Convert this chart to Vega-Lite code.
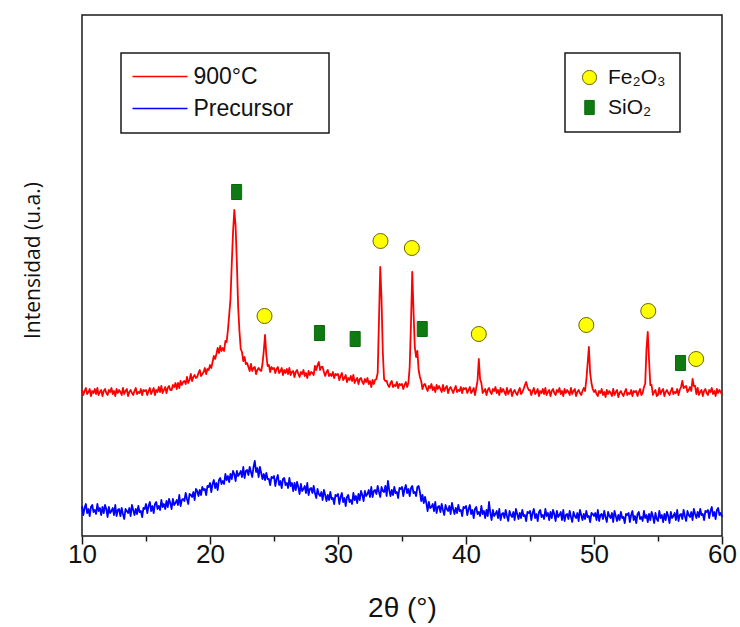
{
  "$schema": "https://vega.github.io/schema/vega-lite/v6.json",
  "autosize": "none",
  "width": 640,
  "height": 521,
  "padding": {"left": 82, "top": 15, "right": 18, "bottom": 91},
  "background": "white",
  "datasets": {
    "xrd": [
      {"tt":10.0,"c900":145,"prec":29},{"tt":10.1,"c900":140,"prec":20},{"tt":10.2,"c900":144,"prec":27},{"tt":10.3,"c900":147,"prec":31},{"tt":10.4,"c900":141,"prec":22},
      {"tt":10.5,"c900":143,"prec":26},{"tt":10.6,"c900":146,"prec":19},{"tt":10.7,"c900":139,"prec":28},{"tt":10.8,"c900":144,"prec":30},{"tt":10.9,"c900":142,"prec":23},
      {"tt":11.0,"c900":146,"prec":25},{"tt":11.1,"c900":141,"prec":21},{"tt":11.2,"c900":147,"prec":31},{"tt":11.3,"c900":140,"prec":24},{"tt":11.4,"c900":143,"prec":27},
      {"tt":11.5,"c900":145,"prec":20},{"tt":11.6,"c900":139,"prec":28},{"tt":11.7,"c900":144,"prec":22},{"tt":11.8,"c900":146,"prec":30},{"tt":11.9,"c900":142,"prec":26},
      {"tt":12.0,"c900":140,"prec":18},{"tt":12.1,"c900":145,"prec":28},{"tt":12.2,"c900":143,"prec":22},{"tt":12.3,"c900":147,"prec":24},{"tt":12.4,"c900":141,"prec":27},
      {"tt":12.5,"c900":144,"prec":20},{"tt":12.6,"c900":139,"prec":30},{"tt":12.7,"c900":146,"prec":19},{"tt":12.8,"c900":142,"prec":25},{"tt":12.9,"c900":145,"prec":26},
      {"tt":13.0,"c900":143,"prec":19},{"tt":13.1,"c900":140,"prec":27},{"tt":13.2,"c900":147,"prec":21},{"tt":13.3,"c900":141,"prec":16},{"tt":13.4,"c900":144,"prec":26},
      {"tt":13.5,"c900":146,"prec":24},{"tt":13.6,"c900":139,"prec":22},{"tt":13.7,"c900":143,"prec":27},{"tt":13.8,"c900":145,"prec":19},{"tt":13.9,"c900":142,"prec":30},
      {"tt":14.0,"c900":140,"prec":25},{"tt":14.1,"c900":144,"prec":20},{"tt":14.2,"c900":147,"prec":26},{"tt":14.3,"c900":141,"prec":21},{"tt":14.4,"c900":143,"prec":29},
      {"tt":14.5,"c900":142,"prec":23},{"tt":14.6,"c900":146,"prec":24},{"tt":14.7,"c900":140,"prec":18},{"tt":14.8,"c900":145,"prec":27},{"tt":14.9,"c900":144,"prec":26},
      {"tt":15.0,"c900":145,"prec":31},{"tt":15.1,"c900":140,"prec":22},{"tt":15.2,"c900":144,"prec":29},{"tt":15.3,"c900":147,"prec":33},{"tt":15.4,"c900":141,"prec":24},
      {"tt":15.5,"c900":144,"prec":29},{"tt":15.6,"c900":147,"prec":22},{"tt":15.7,"c900":140,"prec":31},{"tt":15.8,"c900":145,"prec":33},{"tt":15.9,"c900":143,"prec":26},
      {"tt":16.0,"c900":148,"prec":29},{"tt":16.1,"c900":143,"prec":25},{"tt":16.2,"c900":149,"prec":35},{"tt":16.3,"c900":142,"prec":28},{"tt":16.4,"c900":145,"prec":31},
      {"tt":16.5,"c900":148,"prec":26},{"tt":16.6,"c900":142,"prec":34},{"tt":16.7,"c900":147,"prec":28},{"tt":16.8,"c900":149,"prec":36},{"tt":16.9,"c900":145,"prec":32},
      {"tt":17.0,"c900":145,"prec":26},{"tt":17.1,"c900":150,"prec":36},{"tt":17.2,"c900":148,"prec":30},{"tt":17.3,"c900":152,"prec":32},{"tt":17.4,"c900":146,"prec":35},
      {"tt":17.5,"c900":152,"prec":30},{"tt":17.6,"c900":147,"prec":40},{"tt":17.7,"c900":154,"prec":29},{"tt":17.8,"c900":150,"prec":35},{"tt":17.9,"c900":153,"prec":36},
      {"tt":18.0,"c900":154,"prec":34},{"tt":18.1,"c900":151,"prec":42},{"tt":18.2,"c900":158,"prec":36},{"tt":18.3,"c900":152,"prec":31},{"tt":18.4,"c900":155,"prec":41},
      {"tt":18.5,"c900":161,"prec":40},{"tt":18.6,"c900":154,"prec":38},{"tt":18.7,"c900":158,"prec":43},{"tt":18.8,"c900":160,"prec":35},{"tt":18.9,"c900":157,"prec":46},
      {"tt":19.0,"c900":158,"prec":44},{"tt":19.1,"c900":162,"prec":39},{"tt":19.2,"c900":165,"prec":45},{"tt":19.3,"c900":159,"prec":40},{"tt":19.4,"c900":161,"prec":48},
      {"tt":19.5,"c900":163,"prec":45},{"tt":19.6,"c900":167,"prec":46},{"tt":19.7,"c900":161,"prec":40},{"tt":19.8,"c900":166,"prec":49},{"tt":19.9,"c900":165,"prec":48},
      {"tt":20.0,"c900":170,"prec":52},{"tt":20.1,"c900":167,"prec":43},{"tt":20.2,"c900":173,"prec":51},{"tt":20.3,"c900":179,"prec":55},{"tt":20.4,"c900":176,"prec":47},
      {"tt":20.5,"c900":181,"prec":52},{"tt":20.6,"c900":187,"prec":45},{"tt":20.7,"c900":182,"prec":55},{"tt":20.8,"c900":189,"prec":57},{"tt":20.9,"c900":184,"prec":51},
      {"tt":21.0,"c900":187,"prec":54},{"tt":21.1,"c900":184,"prec":51},{"tt":21.2,"c900":194,"prec":61},{"tt":21.3,"c900":193,"prec":55},{"tt":21.4,"c900":205,"prec":59},
      {"tt":21.5,"c900":220,"prec":53},{"tt":21.6,"c900":236,"prec":61},{"tt":21.7,"c900":271,"prec":56},{"tt":21.8,"c900":303,"prec":64},{"tt":21.9,"c900":325,"prec":61},
      {"tt":22.0,"c900":309,"prec":54},{"tt":22.1,"c900":272,"prec":64},{"tt":22.2,"c900":228,"prec":59},{"tt":22.3,"c900":204,"prec":61},{"tt":22.4,"c900":186,"prec":64},
      {"tt":22.5,"c900":183,"prec":58},{"tt":22.6,"c900":174,"prec":68},{"tt":22.7,"c900":178,"prec":57},{"tt":22.8,"c900":171,"prec":64},{"tt":22.9,"c900":172,"prec":65},
      {"tt":23.0,"c900":168,"prec":60},{"tt":23.1,"c900":164,"prec":68},{"tt":23.2,"c900":171,"prec":63},{"tt":23.3,"c900":164,"prec":58},{"tt":23.4,"c900":167,"prec":68},
      {"tt":23.5,"c900":168,"prec":74},{"tt":23.6,"c900":161,"prec":63},{"tt":23.7,"c900":165,"prec":67},{"tt":23.8,"c900":167,"prec":58},{"tt":23.9,"c900":165,"prec":68},
      {"tt":24.0,"c900":164,"prec":62},{"tt":24.1,"c900":171,"prec":56},{"tt":24.2,"c900":184,"prec":61},{"tt":24.3,"c900":200,"prec":55},{"tt":24.4,"c900":180,"prec":62},
      {"tt":24.5,"c900":169,"prec":56},{"tt":24.6,"c900":170,"prec":56},{"tt":24.7,"c900":163,"prec":50},{"tt":24.8,"c900":168,"prec":58},{"tt":24.9,"c900":166,"prec":57},
      {"tt":25.0,"c900":167,"prec":59},{"tt":25.1,"c900":162,"prec":49},{"tt":25.2,"c900":166,"prec":56},{"tt":25.3,"c900":168,"prec":60},{"tt":25.4,"c900":162,"prec":50},
      {"tt":25.5,"c900":164,"prec":54},{"tt":25.6,"c900":167,"prec":47},{"tt":25.7,"c900":160,"prec":56},{"tt":25.8,"c900":165,"prec":57},{"tt":25.9,"c900":162,"prec":50},
      {"tt":26.0,"c900":166,"prec":52},{"tt":26.1,"c900":161,"prec":47},{"tt":26.2,"c900":167,"prec":57},{"tt":26.3,"c900":160,"prec":49},{"tt":26.4,"c900":163,"prec":52},
      {"tt":26.5,"c900":164,"prec":44},{"tt":26.6,"c900":158,"prec":52},{"tt":26.7,"c900":163,"prec":45},{"tt":26.8,"c900":165,"prec":53},{"tt":26.9,"c900":161,"prec":48},
      {"tt":27.0,"c900":158,"prec":41},{"tt":27.1,"c900":163,"prec":51},{"tt":27.2,"c900":161,"prec":44},{"tt":27.3,"c900":165,"prec":46},{"tt":27.4,"c900":159,"prec":49},
      {"tt":27.5,"c900":162,"prec":42},{"tt":27.6,"c900":157,"prec":52},{"tt":27.7,"c900":164,"prec":40},{"tt":27.8,"c900":160,"prec":46},{"tt":27.9,"c900":163,"prec":47},
      {"tt":28.0,"c900":162,"prec":42},{"tt":28.1,"c900":160,"prec":49},{"tt":28.2,"c900":169,"prec":42},{"tt":28.3,"c900":165,"prec":37},{"tt":28.4,"c900":170,"prec":46},
      {"tt":28.5,"c900":173,"prec":41},{"tt":28.6,"c900":165,"prec":39},{"tt":28.7,"c900":168,"prec":43},{"tt":28.8,"c900":168,"prec":35},{"tt":28.9,"c900":163,"prec":45},
      {"tt":29.0,"c900":159,"prec":40},{"tt":29.1,"c900":163,"prec":34},{"tt":29.2,"c900":165,"prec":40},{"tt":29.3,"c900":159,"prec":35},{"tt":29.4,"c900":161,"prec":43},
      {"tt":29.5,"c900":159,"prec":36},{"tt":29.6,"c900":163,"prec":37},{"tt":29.7,"c900":157,"prec":31},{"tt":29.8,"c900":161,"prec":40},{"tt":29.9,"c900":160,"prec":39},
      {"tt":30.0,"c900":161,"prec":41},{"tt":30.1,"c900":155,"prec":31},{"tt":30.2,"c900":159,"prec":38},{"tt":30.3,"c900":162,"prec":42},{"tt":30.4,"c900":155,"prec":33},
      {"tt":30.5,"c900":157,"prec":37},{"tt":30.6,"c900":160,"prec":29},{"tt":30.7,"c900":153,"prec":38},{"tt":30.8,"c900":157,"prec":40},{"tt":30.9,"c900":155,"prec":33},
      {"tt":31.0,"c900":159,"prec":35},{"tt":31.1,"c900":154,"prec":31},{"tt":31.2,"c900":160,"prec":42},{"tt":31.3,"c900":152,"prec":35},{"tt":31.4,"c900":155,"prec":39},
      {"tt":31.5,"c900":157,"prec":32},{"tt":31.6,"c900":151,"prec":41},{"tt":31.7,"c900":156,"prec":35},{"tt":31.8,"c900":157,"prec":44},{"tt":31.9,"c900":153,"prec":40},
      {"tt":32.0,"c900":151,"prec":34},{"tt":32.1,"c900":156,"prec":44},{"tt":32.2,"c900":153,"prec":39},{"tt":32.3,"c900":157,"prec":41},{"tt":32.4,"c900":151,"prec":45},
      {"tt":32.5,"c900":154,"prec":38},{"tt":32.6,"c900":148,"prec":48},{"tt":32.7,"c900":155,"prec":38},{"tt":32.8,"c900":151,"prec":44},{"tt":32.9,"c900":155,"prec":45},
      {"tt":33.0,"c900":156,"prec":41},{"tt":33.1,"c900":162,"prec":49},{"tt":33.2,"c900":214,"prec":43},{"tt":33.3,"c900":268,"prec":38},{"tt":33.4,"c900":236,"prec":48},
      {"tt":33.5,"c900":183,"prec":44},{"tt":33.6,"c900":156,"prec":43},{"tt":33.7,"c900":154,"prec":49},{"tt":33.8,"c900":154,"prec":39},{"tt":33.9,"c900":150,"prec":54},
      {"tt":34.0,"c900":148,"prec":45},{"tt":34.1,"c900":152,"prec":39},{"tt":34.2,"c900":154,"prec":45},{"tt":34.3,"c900":148,"prec":40},{"tt":34.4,"c900":150,"prec":48},
      {"tt":34.5,"c900":149,"prec":42},{"tt":34.6,"c900":153,"prec":43},{"tt":34.7,"c900":147,"prec":37},{"tt":34.8,"c900":151,"prec":47},{"tt":34.9,"c900":150,"prec":46},
      {"tt":35.0,"c900":151,"prec":48},{"tt":35.1,"c900":146,"prec":39},{"tt":35.2,"c900":150,"prec":46},{"tt":35.3,"c900":153,"prec":50},{"tt":35.4,"c900":148,"prec":42},
      {"tt":35.5,"c900":152,"prec":46},{"tt":35.6,"c900":168,"prec":39},{"tt":35.7,"c900":211,"prec":47},{"tt":35.8,"c900":263,"prec":49},{"tt":35.9,"c900":224,"prec":42},
      {"tt":36.0,"c900":188,"prec":43},{"tt":36.1,"c900":178,"prec":39},{"tt":36.2,"c900":184,"prec":48},{"tt":36.3,"c900":165,"prec":49},{"tt":36.4,"c900":158,"prec":43},
      {"tt":36.5,"c900":154,"prec":34},{"tt":36.6,"c900":146,"prec":40},{"tt":36.7,"c900":150,"prec":32},{"tt":36.8,"c900":151,"prec":38},{"tt":36.9,"c900":147,"prec":32},
      {"tt":37.0,"c900":144,"prec":24},{"tt":37.1,"c900":149,"prec":33},{"tt":37.2,"c900":147,"prec":27},{"tt":37.3,"c900":151,"prec":28},{"tt":37.4,"c900":145,"prec":31},
      {"tt":37.5,"c900":148,"prec":24},{"tt":37.6,"c900":143,"prec":33},{"tt":37.7,"c900":150,"prec":22},{"tt":37.8,"c900":146,"prec":28},{"tt":37.9,"c900":149,"prec":29},
      {"tt":38.0,"c900":146,"prec":23},{"tt":38.1,"c900":143,"prec":31},{"tt":38.2,"c900":150,"prec":25},{"tt":38.3,"c900":144,"prec":20},{"tt":38.4,"c900":147,"prec":30},
      {"tt":38.5,"c900":149,"prec":26},{"tt":38.6,"c900":142,"prec":24},{"tt":38.7,"c900":146,"prec":29},{"tt":38.8,"c900":148,"prec":21},{"tt":38.9,"c900":145,"prec":32},
      {"tt":39.0,"c900":142,"prec":26},{"tt":39.1,"c900":146,"prec":21},{"tt":39.2,"c900":149,"prec":27},{"tt":39.3,"c900":143,"prec":22},{"tt":39.4,"c900":145,"prec":30},
      {"tt":39.5,"c900":144,"prec":24},{"tt":39.6,"c900":148,"prec":25},{"tt":39.7,"c900":142,"prec":19},{"tt":39.8,"c900":147,"prec":28},{"tt":39.9,"c900":146,"prec":27},
      {"tt":40.0,"c900":147,"prec":29},{"tt":40.1,"c900":142,"prec":20},{"tt":40.2,"c900":145,"prec":26},{"tt":40.3,"c900":148,"prec":30},{"tt":40.4,"c900":142,"prec":21},
      {"tt":40.5,"c900":144,"prec":25},{"tt":40.6,"c900":147,"prec":17},{"tt":40.7,"c900":140,"prec":26},{"tt":40.8,"c900":147,"prec":28},{"tt":40.9,"c900":154,"prec":21},
      {"tt":41.0,"c900":176,"prec":23},{"tt":41.1,"c900":156,"prec":19},{"tt":41.2,"c900":152,"prec":29},{"tt":41.3,"c900":142,"prec":21},{"tt":41.4,"c900":144,"prec":24},
      {"tt":41.5,"c900":146,"prec":17},{"tt":41.6,"c900":140,"prec":25},{"tt":41.7,"c900":145,"prec":19},{"tt":41.8,"c900":147,"prec":33},{"tt":41.9,"c900":143,"prec":22},
      {"tt":42.0,"c900":141,"prec":15},{"tt":42.1,"c900":146,"prec":25},{"tt":42.2,"c900":144,"prec":19},{"tt":42.3,"c900":148,"prec":21},{"tt":42.4,"c900":142,"prec":24},
      {"tt":42.5,"c900":145,"prec":17},{"tt":42.6,"c900":140,"prec":26},{"tt":42.7,"c900":147,"prec":15},{"tt":42.8,"c900":143,"prec":21},{"tt":42.9,"c900":146,"prec":22},
      {"tt":43.0,"c900":143,"prec":17},{"tt":43.1,"c900":140,"prec":25},{"tt":43.2,"c900":147,"prec":19},{"tt":43.3,"c900":141,"prec":14},{"tt":43.4,"c900":144,"prec":24},
      {"tt":43.5,"c900":146,"prec":20},{"tt":43.6,"c900":139,"prec":18},{"tt":43.7,"c900":143,"prec":23},{"tt":43.8,"c900":145,"prec":15},{"tt":43.9,"c900":142,"prec":26},
      {"tt":44.0,"c900":140,"prec":21},{"tt":44.1,"c900":144,"prec":16},{"tt":44.2,"c900":147,"prec":22},{"tt":44.3,"c900":141,"prec":17},{"tt":44.4,"c900":143,"prec":25},
      {"tt":44.5,"c900":146,"prec":19},{"tt":44.6,"c900":150,"prec":20},{"tt":44.7,"c900":153,"prec":14},{"tt":44.8,"c900":148,"prec":23},{"tt":44.9,"c900":145,"prec":22},
      {"tt":45.0,"c900":145,"prec":24},{"tt":45.1,"c900":140,"prec":15},{"tt":45.2,"c900":144,"prec":22},{"tt":45.3,"c900":147,"prec":26},{"tt":45.4,"c900":141,"prec":17},
      {"tt":45.5,"c900":143,"prec":21},{"tt":45.6,"c900":146,"prec":14},{"tt":45.7,"c900":139,"prec":23},{"tt":45.8,"c900":144,"prec":25},{"tt":45.9,"c900":142,"prec":18},
      {"tt":46.0,"c900":146,"prec":20},{"tt":46.1,"c900":141,"prec":16},{"tt":46.2,"c900":147,"prec":26},{"tt":46.3,"c900":140,"prec":19},{"tt":46.4,"c900":143,"prec":22},
      {"tt":46.5,"c900":145,"prec":15},{"tt":46.6,"c900":139,"prec":23},{"tt":46.7,"c900":144,"prec":17},{"tt":46.8,"c900":146,"prec":25},{"tt":46.9,"c900":142,"prec":21},
      {"tt":47.0,"c900":140,"prec":14},{"tt":47.1,"c900":145,"prec":24},{"tt":47.2,"c900":143,"prec":18},{"tt":47.3,"c900":147,"prec":20},{"tt":47.4,"c900":141,"prec":23},
      {"tt":47.5,"c900":144,"prec":15},{"tt":47.6,"c900":139,"prec":25},{"tt":47.7,"c900":146,"prec":14},{"tt":47.8,"c900":142,"prec":20},{"tt":47.9,"c900":145,"prec":21},
      {"tt":48.0,"c900":143,"prec":16},{"tt":48.1,"c900":140,"prec":24},{"tt":48.2,"c900":147,"prec":18},{"tt":48.3,"c900":141,"prec":13},{"tt":48.4,"c900":144,"prec":23},
      {"tt":48.5,"c900":146,"prec":19},{"tt":48.6,"c900":139,"prec":17},{"tt":48.7,"c900":143,"prec":22},{"tt":48.8,"c900":145,"prec":14},{"tt":48.9,"c900":142,"prec":25},
      {"tt":49.0,"c900":140,"prec":20},{"tt":49.1,"c900":144,"prec":15},{"tt":49.2,"c900":147,"prec":21},{"tt":49.3,"c900":144,"prec":16},{"tt":49.4,"c900":155,"prec":24},
      {"tt":49.5,"c900":171,"prec":18},{"tt":49.6,"c900":188,"prec":19},{"tt":49.7,"c900":162,"prec":13},{"tt":49.8,"c900":152,"prec":22},{"tt":49.9,"c900":146,"prec":21},
      {"tt":50.0,"c900":143,"prec":19},{"tt":50.1,"c900":145,"prec":22},{"tt":50.2,"c900":141,"prec":15},{"tt":50.3,"c900":139,"prec":25},{"tt":50.4,"c900":144,"prec":14},
      {"tt":50.5,"c900":142,"prec":20},{"tt":50.6,"c900":146,"prec":21},{"tt":50.7,"c900":140,"prec":16},{"tt":50.8,"c900":143,"prec":24},{"tt":50.9,"c900":138,"prec":18},
      {"tt":51.0,"c900":145,"prec":13},{"tt":51.1,"c900":141,"prec":23},{"tt":51.2,"c900":144,"prec":19},{"tt":51.3,"c900":142,"prec":17},{"tt":51.4,"c900":139,"prec":22},
      {"tt":51.5,"c900":146,"prec":13},{"tt":51.6,"c900":140,"prec":24},{"tt":51.7,"c900":143,"prec":19},{"tt":51.8,"c900":145,"prec":14},{"tt":51.9,"c900":138,"prec":20},
      {"tt":52.0,"c900":142,"prec":15},{"tt":52.1,"c900":144,"prec":23},{"tt":52.2,"c900":141,"prec":17},{"tt":52.3,"c900":139,"prec":18},{"tt":52.4,"c900":143,"prec":12},
      {"tt":52.5,"c900":146,"prec":21},{"tt":52.6,"c900":140,"prec":20},{"tt":52.7,"c900":142,"prec":22},{"tt":52.8,"c900":141,"prec":13},{"tt":52.9,"c900":145,"prec":20},
      {"tt":53.0,"c900":139,"prec":24},{"tt":53.1,"c900":144,"prec":15},{"tt":53.2,"c900":143,"prec":19},{"tt":53.3,"c900":144,"prec":12},{"tt":53.4,"c900":139,"prec":21},
      {"tt":53.5,"c900":143,"prec":23},{"tt":53.6,"c900":146,"prec":16},{"tt":53.7,"c900":140,"prec":18},{"tt":53.8,"c900":142,"prec":14},{"tt":53.9,"c900":148,"prec":24},
      {"tt":54.0,"c900":151,"prec":17},{"tt":54.1,"c900":186,"prec":20},{"tt":54.2,"c900":203,"prec":13},{"tt":54.3,"c900":175,"prec":21},{"tt":54.4,"c900":150,"prec":15},
      {"tt":54.5,"c900":150,"prec":23},{"tt":54.6,"c900":140,"prec":19},{"tt":54.7,"c900":143,"prec":12},{"tt":54.8,"c900":145,"prec":22},{"tt":54.9,"c900":139,"prec":16},
      {"tt":55.0,"c900":140,"prec":14},{"tt":55.1,"c900":147,"prec":24},{"tt":55.2,"c900":141,"prec":17},{"tt":55.3,"c900":144,"prec":20},{"tt":55.4,"c900":146,"prec":13},
      {"tt":55.5,"c900":139,"prec":21},{"tt":55.6,"c900":143,"prec":15},{"tt":55.7,"c900":145,"prec":23},{"tt":55.8,"c900":142,"prec":19},{"tt":55.9,"c900":140,"prec":12},
      {"tt":56.0,"c900":144,"prec":23},{"tt":56.1,"c900":147,"prec":17},{"tt":56.2,"c900":141,"prec":19},{"tt":56.3,"c900":143,"prec":22},{"tt":56.4,"c900":142,"prec":15},
      {"tt":56.5,"c900":146,"prec":25},{"tt":56.6,"c900":140,"prec":14},{"tt":56.7,"c900":145,"prec":20},{"tt":56.8,"c900":148,"prec":21},{"tt":56.9,"c900":154,"prec":16},
      {"tt":57.0,"c900":147,"prec":25},{"tt":57.1,"c900":148,"prec":19},{"tt":57.2,"c900":149,"prec":14},{"tt":57.3,"c900":143,"prec":24},{"tt":57.4,"c900":145,"prec":20},
      {"tt":57.5,"c900":148,"prec":18},{"tt":57.6,"c900":144,"prec":23},{"tt":57.7,"c900":156,"prec":15},{"tt":57.8,"c900":149,"prec":26},{"tt":57.9,"c900":149,"prec":21},
      {"tt":58.0,"c900":141,"prec":17},{"tt":58.1,"c900":147,"prec":23},{"tt":58.2,"c900":140,"prec":18},{"tt":58.3,"c900":143,"prec":26},{"tt":58.4,"c900":145,"prec":20},
      {"tt":58.5,"c900":139,"prec":21},{"tt":58.6,"c900":144,"prec":15},{"tt":58.7,"c900":146,"prec":24},{"tt":58.8,"c900":142,"prec":23},{"tt":58.9,"c900":140,"prec":25},
      {"tt":59.0,"c900":145,"prec":17},{"tt":59.1,"c900":143,"prec":24},{"tt":59.2,"c900":147,"prec":28},{"tt":59.3,"c900":141,"prec":19},{"tt":59.4,"c900":144,"prec":23},
      {"tt":59.5,"c900":139,"prec":16},{"tt":59.6,"c900":146,"prec":25},{"tt":59.7,"c900":142,"prec":27},{"tt":59.8,"c900":145,"prec":20},{"tt":59.9,"c900":143,"prec":22},
      {"tt":60.0,"c900":140,"prec":18}
    ],
    "phases": [
      {"tt":22.08,"int":343,"phase":"SiO₂"},
      {"tt":24.26,"int":219,"phase":"Fe₂O₃"},
      {"tt":28.55,"int":202,"phase":"SiO₂"},
      {"tt":31.34,"int":196,"phase":"SiO₂"},
      {"tt":33.32,"int":294,"phase":"Fe₂O₃"},
      {"tt":35.77,"int":287,"phase":"Fe₂O₃"},
      {"tt":36.58,"int":206,"phase":"SiO₂"},
      {"tt":41.0,"int":201,"phase":"Fe₂O₃"},
      {"tt":49.4,"int":210,"phase":"Fe₂O₃"},
      {"tt":54.24,"int":224,"phase":"Fe₂O₃"},
      {"tt":56.76,"int":172,"phase":"SiO₂"},
      {"tt":57.98,"int":176,"phase":"Fe₂O₃"}
    ]
  },
  "encoding": {
    "x": {
      "field": "tt",
      "type": "quantitative",
      "scale": {"domain": [10, 60], "nice": false, "zero": false},
      "axis": {
        "title": "2θ (°)",
        "values": [10, 15, 20, 25, 30, 35, 40, 45, 50, 55, 60],
        "labelExpr": "datum.value % 10 === 0 ? datum.label : ''",
        "labelOverlap": false,
        "labelFlush": false,
        "tickSize": {"condition": {"test": "datum.value % 10 === 0", "value": 8}, "value": 5},
        "tickColor": "#1a1a1a",
        "tickWidth": 1.5,
        "domain": false,
        "grid": false,
        "labelFont": "Liberation Sans",
        "labelFontSize": 26,
        "labelColor": "#111111",
        "labelPadding": -3,
        "titleFont": "Liberation Sans",
        "titleFontSize": 28,
        "titleFontWeight": "normal",
        "titleColor": "#111111",
        "titleY": 72,
        "titleBaseline": "middle"
      }
    }
  },
  "layer": [
    {
      "data": {"name": "xrd"},
      "mark": {"type": "line", "strokeWidth": 1.8, "strokeJoin": "round"},
      "encoding": {
        "y": {
          "field": "c900",
          "type": "quantitative",
          "scale": {"domain": [-1, 520], "nice": false, "zero": false},
          "axis": {"title": "Intensidad (u.a.)", "labels": false, "ticks": false, "domain": false, "grid": false,
                   "titleFont": "Open Sans", "titleFontSize": 21, "titleFontWeight": "normal", "titleColor": "#111111",
                   "titleX": -49, "titleY": 245, "titleBaseline": "middle"}
        },
        "color": {
          "datum": "900°C",
          "type": "nominal",
          "scale": {"domain": ["900°C", "Precursor"], "range": ["#ff0000", "#0000ff"]},
          "legend": {
            "title": " ",
            "titleOrient": "right",
            "titlePadding": 24,
            "titleFontSize": 11,
            "orient": "none",
            "legendX": 39,
            "legendY": 38,
            "fillColor": "white",
            "strokeColor": "#1a1a1a",
            "padding": 12,
            "symbolType": "M-2.75,0L2.75,0",
            "symbolSize": 400,
            "symbolOffset": 15.5,
            "symbolStrokeWidth": 1.5,
            "labelFont": "Liberation Sans",
            "labelFontSize": 23,
            "labelColor": "#111111",
            "labelOffset": 22,
            "rowPadding": 8
          }
        }
      }
    },
    {
      "data": {"name": "xrd"},
      "mark": {"type": "line", "strokeWidth": 1.8, "strokeJoin": "round"},
      "encoding": {
        "y": {
          "field": "prec",
          "type": "quantitative",
          "scale": {"domain": [-1, 520], "nice": false, "zero": false},
          "axis": {"title": "Intensidad (u.a.)", "labels": false, "ticks": false, "domain": false, "grid": false,
                   "titleFont": "Open Sans", "titleFontSize": 21, "titleFontWeight": "normal", "titleColor": "#111111",
                   "titleX": -49, "titleY": 245, "titleBaseline": "middle"}
        },
        "color": {"datum": "Precursor", "type": "nominal"}
      }
    },
    {
      "data": {"name": "phases"},
      "mark": {"type": "point", "filled": true, "size": 225, "strokeWidth": 1, "opacity": 1},
      "encoding": {
        "y": {
          "field": "int",
          "type": "quantitative",
          "scale": {"domain": [-1, 520], "nice": false, "zero": false},
          "axis": {"title": "Intensidad (u.a.)", "labels": false, "ticks": false, "domain": false, "grid": false,
                   "titleFont": "Open Sans", "titleFontSize": 21, "titleFontWeight": "normal", "titleColor": "#111111",
                   "titleX": -49, "titleY": 245, "titleBaseline": "middle"}
        },
        "shape": {
          "field": "phase",
          "type": "nominal",
          "scale": {"domain": ["Fe₂O₃", "SiO₂"], "range": ["circle", "M-0.67,-1L0.67,-1L0.67,1L-0.67,1Z"]},
          "legend": {
            "title": null,
            "orient": "none",
            "legendX": 483,
            "legendY": 38,
            "fillColor": "white",
            "strokeColor": "#1a1a1a",
            "padding": 14,
            "symbolSize": 200,
            "symbolStrokeWidth": 1,
            "labelFont": "Liberation Sans",
            "labelFontSize": 21,
            "labelColor": "#111111",
            "labelOffset": 8,
            "rowPadding": 8
          }
        },
        "fill": {
          "field": "phase",
          "type": "nominal",
          "scale": {"domain": ["Fe₂O₃", "SiO₂"], "range": ["#ffff00", "#0f7a12"]},
          "legend": {
            "title": null,
            "orient": "none",
            "legendX": 483,
            "legendY": 38,
            "fillColor": "white",
            "strokeColor": "#1a1a1a",
            "padding": 14,
            "symbolSize": 200,
            "symbolStrokeWidth": 1,
            "labelFont": "Liberation Sans",
            "labelFontSize": 21,
            "labelColor": "#111111",
            "labelOffset": 8,
            "rowPadding": 8
          }
        },
        "stroke": {
          "field": "phase",
          "type": "nominal",
          "scale": {"domain": ["Fe₂O₃", "SiO₂"], "range": ["#6b6400", "#0c6a0e"]},
          "legend": {
            "title": null,
            "orient": "none",
            "legendX": 483,
            "legendY": 38,
            "fillColor": "white",
            "strokeColor": "#1a1a1a",
            "padding": 14,
            "symbolSize": 200,
            "symbolStrokeWidth": 1,
            "labelFont": "Liberation Sans",
            "labelFontSize": 21,
            "labelColor": "#111111",
            "labelOffset": 8,
            "rowPadding": 8
          }
        }
      }
    }
  ],
  "config": {
    "view": {"stroke": "#1a1a1a", "strokeWidth": 1.5},
    "legend": {"strokeWidth": 1.5}
  }
}
